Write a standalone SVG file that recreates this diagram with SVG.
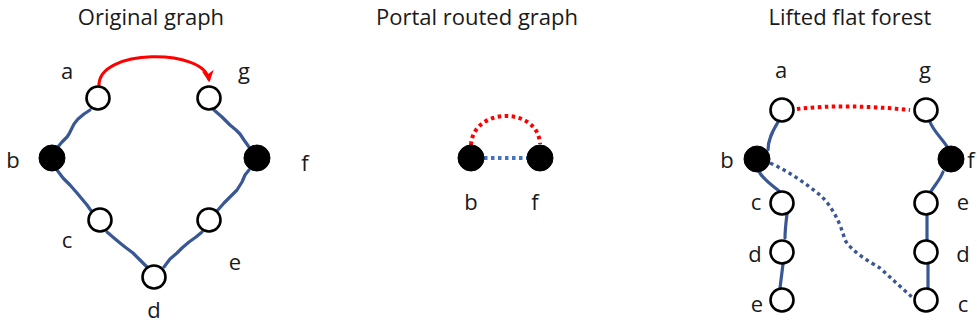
<svg xmlns="http://www.w3.org/2000/svg" width="977" height="328" viewBox="0 0 977 328">
<defs>
<style>
.title{font-family:"Open Sans","Liberation Sans",sans-serif;font-size:22px;fill:#1a1a1a;text-anchor:middle}
.lbl{font-family:"Open Sans","Liberation Sans",sans-serif;font-size:22px;fill:#1a1a1a;text-anchor:middle}
.open{fill:#fff;stroke:#000;stroke-width:2.6}
.fill{fill:#000;stroke:#000;stroke-width:1}
.edge{fill:none;stroke:#3a5795;stroke-width:3.2;stroke-linecap:round;stroke-linejoin:round}
.red{fill:none;stroke:#ff0000;stroke-width:3}
.reddot{fill:none;stroke:#ff0000;stroke-width:4;stroke-dasharray:3.5 3.5}
.bluedot{fill:none;stroke:#4472c4;stroke-width:4;stroke-dasharray:3.5 3.5}
.bluedot2{fill:none;stroke:#3a5795;stroke-width:3.4;stroke-dasharray:3.5 3.5}
</style>
<marker id="arr" viewBox="0 0 10 10" refX="8" refY="5" markerWidth="4" markerHeight="4" orient="auto" markerUnits="strokeWidth">
<path d="M0,0 L10,5 L0,10 L3,5 Z" fill="#ff0000"/>
</marker>
</defs>
<rect width="977" height="328" fill="#fff"/>

<text class="title" x="151" y="25">Original graph</text>
<text class="title" x="477" y="25">Portal routed graph</text>
<text class="title" x="850" y="25">Lifted flat forest</text>

<g id="connectors">
<path class="edge" d="M90,110 L84,114 L78,119 L74,124 L72,128 L69,134 L67,137 L62,142 L57,148"/>
<path class="edge" d="M57,170 L63,178 L70,185 L77,193 L82,199 L87,205 L92,212"/>
<path class="edge" d="M107,232 L114,238 L120,243 L125,247 L133,253 L140,260 L147,267"/>
<path class="edge" d="M164,267 L170,259 L177,253 L182,248 L189,242 L196,237 L202,232"/>
<path class="edge" d="M217,211 L224,203 L230,197 L237,190 L242,182 L245,175 L249,170"/>
<path class="edge" d="M214,110 L222,117 L230,125 L236,130 L240,134 L244,140 L249,147"/>
<path class="red" d="M99,86 C97,48 205,48 209,80" marker-end="url(#arr)"/>
<path class="reddot" d="M471,145 C473,107 538,106 540,144"/>
<path class="bluedot" d="M484,158 L527,158"/>
<path class="reddot" d="M797,109 C830,105 870,106 910,110"/>
<path class="edge" d="M778,122 C772,132 768,140 768,150"/>
<path class="edge" d="M758,170 C763,180 772,185 779,191"/>
<path class="edge" d="M787,214 C786,222 785,230 785,238"/>
<path class="edge" d="M783,264 C782,272 781,280 780,288"/>
<path class="edge" d="M930,122 C934,132 942,138 948,148"/>
<path class="edge" d="M943,172 C940,180 934,186 930,193"/>
<path class="edge" d="M927,216 L927,240"/>
<path class="edge" d="M928,264 L928,288"/>
<path class="bluedot2" d="M770,163 C790,172 805,183 820,195 C832,206 840,222 845,240 C852,252 870,262 880,268 C892,279 903,289 913,298"/>
</g>

<g id="left-a"><circle class="open" cx="98" cy="98" r="11.5"/><text class="lbl" x="67" y="79">a</text></g>
<g id="left-g"><circle class="open" cx="209" cy="98" r="11.5"/><text class="lbl" x="244" y="79">g</text></g>
<g id="left-b"><circle class="fill" cx="52" cy="158" r="13"/><text class="lbl" x="13" y="168">b</text></g>
<g id="left-f"><circle class="fill" cx="257" cy="158" r="13"/><text class="lbl" x="305" y="171">f</text></g>
<g id="left-c"><circle class="open" cx="100" cy="220" r="11.5"/><text class="lbl" x="67" y="248">c</text></g>
<g id="left-e"><circle class="open" cx="209" cy="220" r="11.5"/><text class="lbl" x="235" y="270">e</text></g>
<g id="left-d"><circle class="open" cx="154" cy="277" r="11.5"/><text class="lbl" x="154" y="318">d</text></g>

<g id="mid-b"><circle class="fill" cx="471" cy="158" r="13"/><text class="lbl" x="471" y="210">b</text></g>
<g id="mid-f"><circle class="fill" cx="540" cy="158" r="13"/><text class="lbl" x="535" y="210">f</text></g>

<g id="right-a"><circle class="open" cx="782" cy="110" r="11.5"/><text class="lbl" x="781" y="78">a</text></g>
<g id="right-g"><circle class="open" cx="926" cy="110" r="11.5"/><text class="lbl" x="925" y="78">g</text></g>
<g id="right-b"><circle class="fill" cx="757" cy="159" r="13"/><text class="lbl" x="727" y="168">b</text></g>
<g id="right-f"><circle class="fill" cx="951" cy="159" r="13"/><text class="lbl" x="971" y="168">f</text></g>
<g id="right-c1"><circle class="open" cx="782" cy="203" r="11.5"/><text class="lbl" x="756" y="210">c</text></g>
<g id="right-d1"><circle class="open" cx="782" cy="252" r="11.5"/><text class="lbl" x="755" y="262">d</text></g>
<g id="right-e1"><circle class="open" cx="782" cy="300" r="11.5"/><text class="lbl" x="757" y="312">e</text></g>
<g id="right-e2"><circle class="open" cx="926" cy="203" r="11.5"/><text class="lbl" x="963" y="210">e</text></g>
<g id="right-d2"><circle class="open" cx="926" cy="252" r="11.5"/><text class="lbl" x="963" y="262">d</text></g>
<g id="right-c2"><circle class="open" cx="926" cy="300" r="11.5"/><text class="lbl" x="963" y="312">c</text></g>
</svg>
